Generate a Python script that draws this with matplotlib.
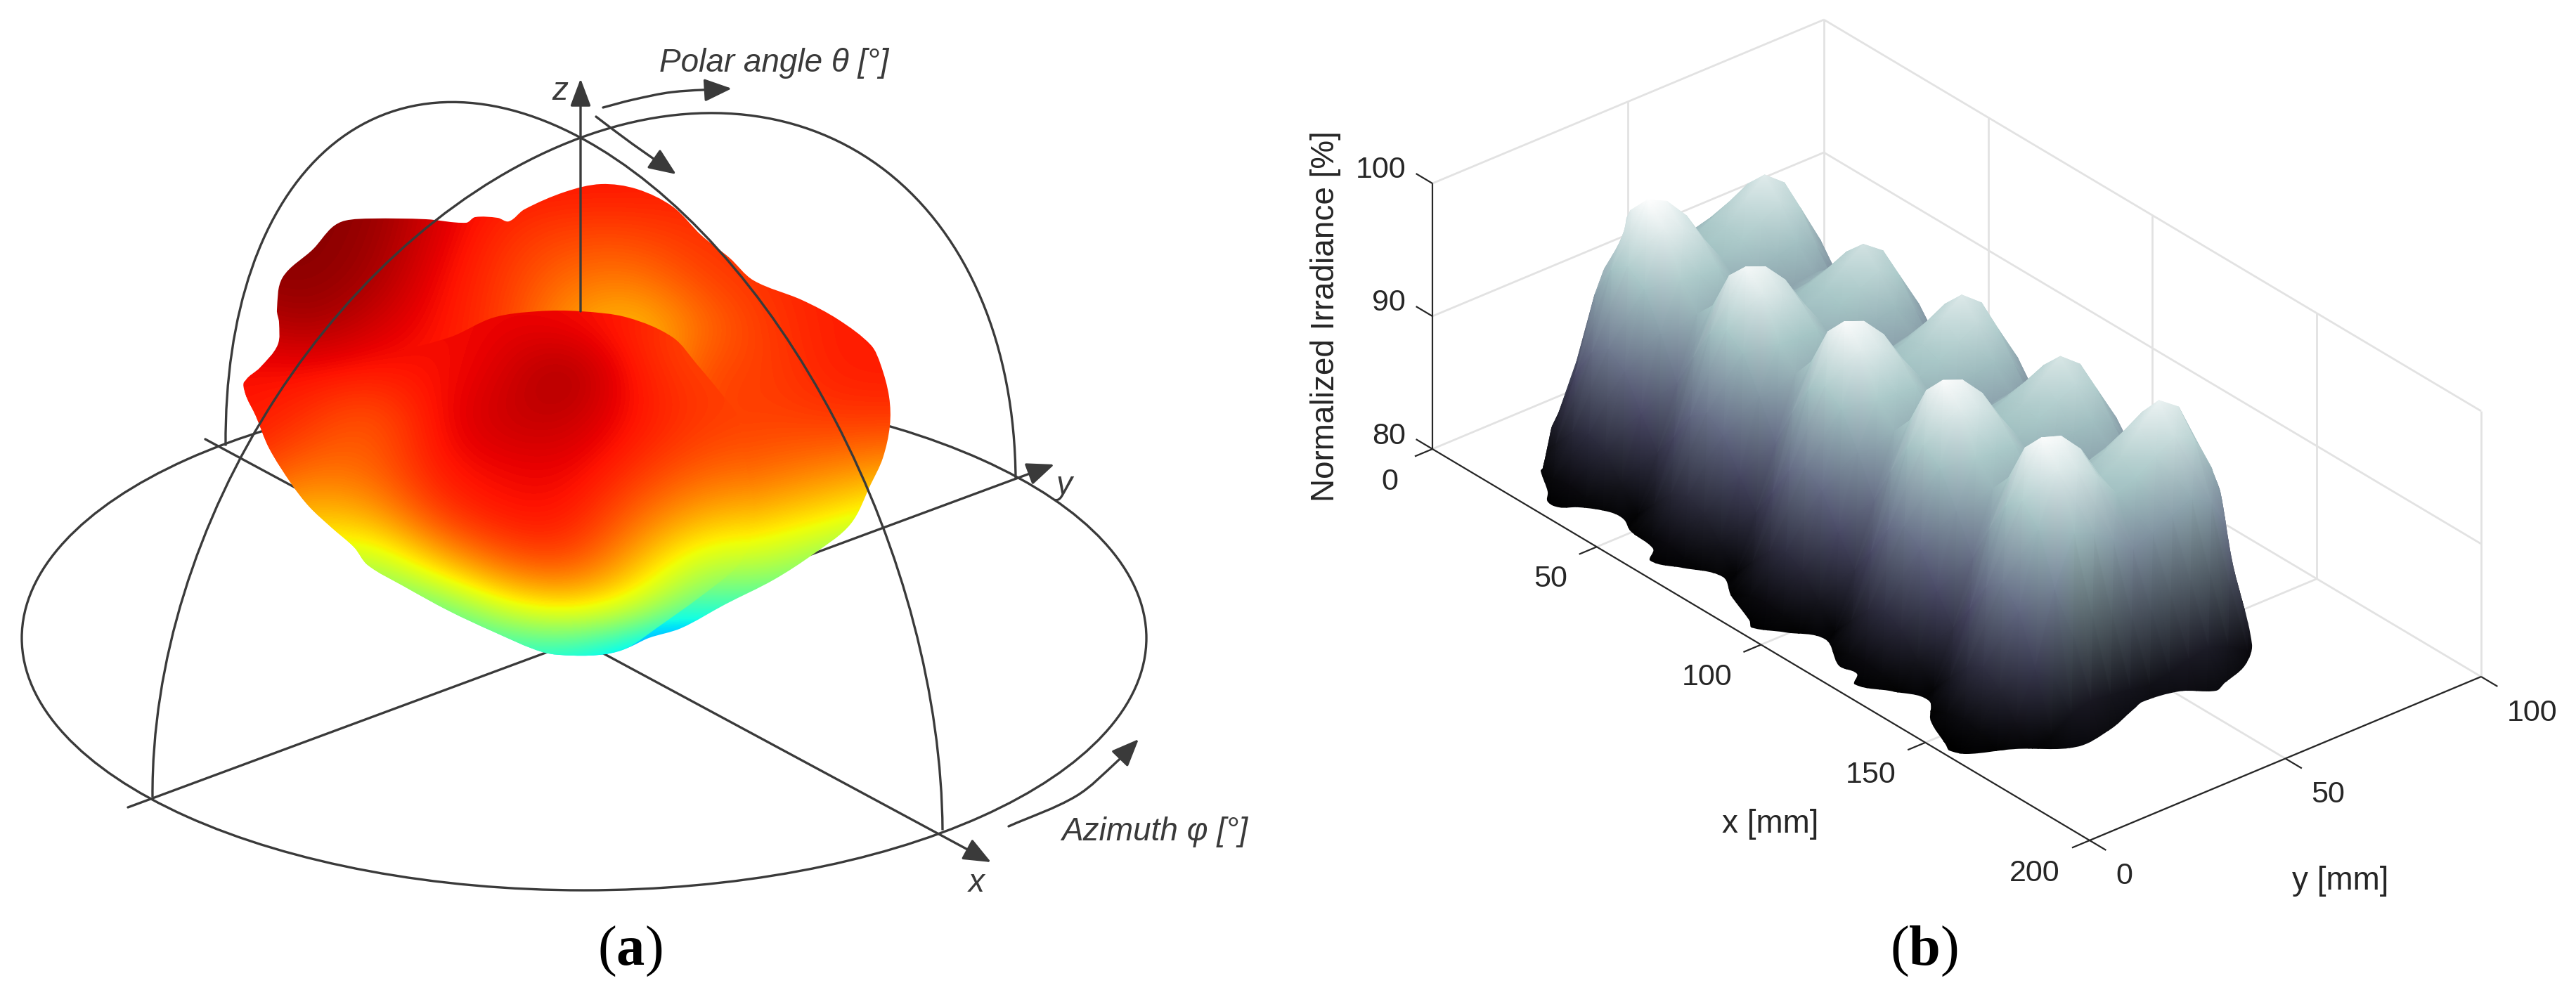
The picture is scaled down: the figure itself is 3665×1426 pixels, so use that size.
import matplotlib

matplotlib.use("Agg")
import matplotlib.pyplot as plt
import numpy as np
from matplotlib.patches import Ellipse, FancyArrowPatch, PathPatch
from matplotlib.path import Path
from matplotlib.transforms import Affine2D

# panel (a): everything, in its pixel coordinates
HORIZON_CENTER = (831, 908)
HORIZON_SIZE = (1600, 718)
# half circles over the horizon: half-chord vector, then vector up to the zenith
ARC_XZ = ((510, 273.5), (-5, -712))
ARC_YZ = ((614, -226.5), (-5, -712))
AXIS_X = [(292, 625), (1410, 1227)]
AXIS_Y = [(182, 1149), (1500, 661)]
AXIS_Z = [(826, 443), (826, 112)]
ARROW_POLAR_1 = [(858, 153), (900, 142), (957, 131), (1041, 126)]
ARROW_POLAR_2 = [(848, 166), (900, 205), (962, 248)]
ARROW_AZIMUTH = [(1435, 1176), (1531, 1133), (1589, 1084), (1620, 1052)]

BLOB_OUTLINE = [(491, 314), (529, 311), (606, 312), (663, 317), (676, 309), (708, 310), (724, 315),
                (746, 298), (804, 273), (855, 262), (906, 269), (957, 294), (998, 335), (1038, 367),
                (1072, 399), (1141, 427), (1193, 455), (1239, 491), (1253, 519), (1265, 565),
                (1266, 606), (1256, 652), (1239, 689), (1210, 746), (1158, 788), (1101, 825),
                (1032, 860), (969, 894), (923, 908), (893, 922), (861, 931), (816, 933), (772, 928),
                (702, 899), (638, 869), (574, 834), (523, 804), (504, 779), (472, 751), (440, 721),
                (415, 689), (383, 638), (364, 592), (349, 560), (349, 542), (370, 523), (395, 491),
                (397, 459), (394, 441), (402, 395), (446, 354), (472, 324)]
FRONT_LOBE = [(702, 452), (765, 443), (826, 443), (893, 452), (957, 480), (992, 519), (1026, 560),
              (1049, 592), (1058, 643), (1072, 720), (1070, 746), (1066, 774), (1049, 806),
              (998, 848), (934, 894), (893, 922), (861, 931), (816, 933), (772, 928), (702, 899),
              (638, 869), (574, 834), (523, 804), (504, 779), (472, 751), (440, 721), (415, 689),
              (383, 638), (364, 592), (349, 560), (349, 542), (420, 520), (560, 500), (640, 480)]

# jet colour position (percent) on a coarse grid over the blob
BLOB_X = [340, 434, 528, 622, 716, 810, 904, 998, 1092, 1186, 1280]
BLOB_Y = [260, 328, 396, 464, 532, 600, 668, 736, 804, 872, 940]
BACK_JET = [[99, 99, 99, 92, 89, 89, 89, 88, 88, 88, 88],
            [99, 99, 98, 92, 86, 84, 84, 86, 86, 88, 88],
            [98, 99, 97, 90, 85, 79, 78, 84, 86, 88, 88],
            [93, 97, 93, 89, 85, 74, 69, 79, 85, 88, 88],
            [89, 89, 88, 89, 85, 74, 70, 84, 84, 88, 88],
            [89, 86, 80, 90, 85, 75, 72, 85, 84, 85, 85],
            [86, 79, 80, 89, 85, 76, 74, 82, 80, 77, 74],
            [75, 70, 72, 85, 76, 74, 73, 74, 70, 66, 60],
            [60, 60, 55, 70, 65, 62, 60, 58, 58, 50, 45],
            [50, 50, 45, 45, 50, 45, 40, 40, 40, 40, 40],
            [30, 30, 35, 35, 35, 35, 25, 20, 20, 20, 20]]
FRONT_JET = [[99, 99, 99, 92, 89, 89, 89, 89, 89, 89, 89],
             [99, 99, 98, 92, 89, 89, 89, 89, 89, 89, 89],
             [98, 99, 97, 90, 90, 90, 89, 89, 89, 89, 89],
             [93, 97, 93, 89, 91, 90, 87, 82, 82, 82, 82],
             [89, 89, 88, 89, 92, 98, 88, 84, 84, 84, 84],
             [89, 86, 80, 90, 94, 94, 89, 85, 84, 84, 84],
             [86, 79, 80, 89, 90, 91, 86, 81, 80, 80, 80],
             [75, 70, 72, 85, 89, 89, 80, 72, 70, 70, 70],
             [60, 60, 55, 70, 81, 84, 72, 58, 58, 58, 58],
             [50, 50, 45, 45, 60, 66, 60, 45, 40, 40, 40],
             [30, 30, 35, 35, 35, 35, 25, 15, 15, 15, 15]]

# panel (b): axes of the surface and its tick values
X_TICKS = [0, 50, 100, 150, 200]
Y_TICKS = [0, 50, 100]
Z_TICKS = [80, 90, 100]

# irradiance on a 5 mm grid, far rows first
SURF_X = [12, 17, 22, 27, 32, 37, 42, 47, 52, 57, 62, 67, 72, 77, 82, 87, 92, 97, 102, 107, 112, 117,
          122, 127, 132, 137, 142, 147, 152, 157, 162, 167, 172]
SURF_Y = [88, 83, 78, 73, 68, 63, 58, 53, 48, 43, 38, 33, 28, 23, 18, 13, 8, 3, -2]
SURF_Z = [
    [78] * 33,
    [78, 78.2, 79.6, 80, 80.4, 80, 79.6, 78.8, 79.6, 80, 80.3, 80, 79.6, 78.8, 79.6, 80, 80.4, 80, 79.6, 78.8, 79.6, 80, 80.4, 80, 79.6, 78.9, 79.7, 80.1, 80.6, 80, 79.2, 78.4, 78],
    [78, 79.4, 82.5, 83.8, 84.5, 83.8, 82.5, 80.6, 82.4, 83.6, 84.2, 83.6, 82.4, 80.6, 82.5, 83.8, 84.5, 83.8, 82.5, 80.6, 82.5, 83.7, 84.4, 83.7, 82.5, 80.7, 82.7, 84, 84.9, 83.8, 81.8, 79.2, 78],
    [78, 81.6, 86.4, 88.2, 89, 88.2, 86.4, 83.8, 86.2, 87.9, 88.6, 87.9, 86.2, 83.8, 86.4, 88.2, 89, 88.2, 86.4, 83.8, 86.4, 88.1, 88.9, 88.1, 86.4, 84, 86.8, 88.7, 89.8, 88.3, 85, 80.2, 78],
    [78, 83.6, 91, 92.8, 93.6, 92.8, 91, 88.6, 90.7, 92.4, 93.2, 92.4, 90.7, 88.5, 91, 92.8, 93.6, 92.8, 91, 88.6, 90.9, 92.7, 93.5, 92.7, 91, 88.8, 91.4, 93.4, 94.4, 92.9, 89, 81, 78],
    [78, 85.2, 93.6, 95.8, 97, 95.8, 93.6, 91.8, 93.2, 95.2, 96.3, 95.2, 93.2, 91.6, 93.6, 95.6, 96.8, 95.6, 93.6, 91.8, 93.4, 95.4, 96.6, 95.5, 93.6, 92, 94, 96.4, 97.8, 96, 92, 82, 78],
    [78, 86, 94.6, 96.8, 98.2, 96.8, 94.6, 93, 94.1, 96.1, 97.4, 96.1, 94.1, 92.8, 94.4, 96.6, 98, 96.6, 94.4, 92.9, 94.3, 96.4, 97.8, 96.4, 94.4, 93.2, 95, 97.3, 98.9, 96.9, 93, 82.5, 78],
    [78, 85.4, 94.2, 96, 97, 96, 94.2, 92.8, 93.8, 95.4, 96.4, 95.4, 93.8, 92.6, 94.1, 95.8, 96.9, 95.8, 94.1, 92.7, 94, 95.7, 96.7, 95.7, 94.1, 92.9, 94.5, 96.4, 97.5, 96, 92.3, 82.2, 78],
    [78, 84.6, 93.8, 95.2, 95.6, 95.2, 93.8, 92, 93.5, 94.8, 95.2, 94.8, 93.5, 91.9, 93.7, 95, 95.5, 95, 93.7, 92, 93.7, 95, 95.4, 95, 93.8, 92.1, 94, 95.4, 95.9, 95, 91.6, 81.8, 78],
    [78, 84.2, 93.2, 94.4, 94.8, 94.4, 93.2, 91.8, 93, 94.1, 94.6, 94.1, 93, 91.7, 93.2, 94.4, 94.8, 94.4, 93.2, 91.8, 93.2, 94.3, 94.8, 94.3, 93.2, 91.9, 93.4, 94.5, 95, 94.4, 91, 81.5, 78],
    [78, 85.6, 95, 96.6, 97.6, 96.6, 95, 93.2, 94.8, 96.2, 97.2, 96.2, 94.8, 93.1, 95, 96.5, 97.5, 96.5, 95, 93.2, 95, 96.5, 97.5, 96.5, 95, 93.3, 95.1, 96.6, 97.7, 96.3, 92.3, 81.8, 78],
    [78, 86.8, 95.2, 97.9, 99.3, 97.9, 95.2, 93.4, 94.9, 97.4, 98.8, 97.4, 94.9, 93.3, 95.1, 97.7, 99.1, 97.7, 95.1, 93.4, 95.1, 97.7, 99.1, 97.7, 95.1, 93.5, 95.2, 97.8, 99.3, 97.5, 93.4, 82, 78],
    [78, 87.7, 95.4, 98.5, 100, 98.5, 95.4, 93.6, 95, 98, 99.4, 98, 95, 93.5, 95.2, 98.2, 99.7, 98.2, 95.2, 93.6, 95.2, 98.2, 99.7, 98.2, 95.2, 93.7, 95.3, 98.3, 99.8, 98, 94, 82.2, 78],
    [78, 86.2, 92, 94.6, 95.6, 94.6, 92, 89, 91.7, 94.2, 95.2, 94.2, 91.7, 88.9, 91.9, 94.4, 95.4, 94.4, 91.9, 89, 91.9, 94.4, 95.4, 94.4, 91.9, 89.1, 92, 94.5, 95.6, 94.2, 90.4, 81.8, 78],
    [78, 83, 86.6, 89, 90, 89, 86.6, 84.4, 86.3, 88.6, 89.6, 88.6, 86.3, 84.3, 86.5, 88.9, 89.9, 88.9, 86.5, 84.4, 86.5, 88.9, 89.9, 88.9, 86.5, 84.5, 86.6, 89, 90.1, 88.6, 85, 80.8, 78],
    [78, 80.6, 82, 83.6, 84.2, 83.6, 82, 80.4, 81.9, 83.4, 84, 83.4, 81.9, 80.4, 82, 83.5, 84.2, 83.5, 82, 80.4, 82, 83.5, 84.2, 83.5, 82, 80.5, 82.1, 83.6, 84.4, 83.4, 81.6, 80, 78],
    [78, 79.6, 80.2, 80.8, 81, 80.8, 80.2, 79, 80.2, 80.7, 81, 80.7, 80.2, 79, 80.2, 80.8, 81, 80.8, 80.2, 79, 80.2, 80.8, 81, 80.8, 80.2, 79, 80.2, 80.8, 81.1, 80.8, 80.2, 79.4, 78],
    [78, 79, 79.4, 79.9, 80, 79.9, 79.4, 78.2, 79.4, 79.9, 80, 79.9, 79.4, 78.2, 79.4, 79.9, 80, 79.9, 79.4, 78.2, 79.4, 79.9, 80, 79.9, 79.4, 78.2, 79.4, 79.9, 80, 79.9, 79.4, 78.6, 78],
    [76] * 33,
]
# outline of the surface on screen: scalloped foot, then loose round the peaks
SURF_OUTLINE = [(2192, 670), (2202, 700), (2202, 714), (2218, 722), (2246, 722), (2291, 729), (2310, 739),
                (2320, 756), (2352, 781), (2348, 798), (2393, 808), (2451, 821), (2463, 848), (2489, 883),
                (2492, 893), (2540, 900), (2597, 910), (2616, 947), (2642, 959), (2639, 974), (2693, 984),
                (2744, 997), (2747, 1026), (2769, 1061), (2773, 1068), (2797, 1073), (2867, 1066),
                (2954, 1063), (3001, 1039), (3036, 1009), (3048, 999), (3100, 984), (3153, 983),
                (3165, 972), (3194, 947), (3204, 917), (3176, 799), (3159, 700), (3147, 666), (3125, 576),
                (3110, 500), (2900, 330), (2500, 150), (2330, 220), (2310, 330), (2266, 413), (2221, 551),
                (2195, 666)]

INK = "#3a3a3a"
AXIS_INK = "#262626"
GRID_INK = "#e2e2e2"
SANS = "Liberation Sans"

plt.rcParams["mathtext.fontset"] = "custom"
plt.rcParams["mathtext.rm"] = "Liberation Serif"
plt.rcParams["mathtext.bf"] = "Liberation Serif:bold"


def curve(points, closed=False):
    # smooth bezier through the read points
    pts = np.asarray(points, dtype=float)
    if closed:
        pts = np.vstack([pts, pts[0]])
    verts = [pts[0]]
    codes = [Path.MOVETO]
    for i in range(len(pts) - 1):
        if closed:
            before = pts[i - 1] if i > 0 else pts[-2]
            after = pts[i + 2] if i + 2 < len(pts) else pts[1]
        else:
            before = pts[max(i - 1, 0)]
            after = pts[min(i + 2, len(pts) - 1)]
        seg = np.linalg.norm(pts[i + 1] - pts[i]) / 3
        out_dir = (pts[i + 1] - before) / np.linalg.norm(pts[i + 1] - before)
        in_dir = (after - pts[i]) / np.linalg.norm(after - pts[i])
        verts += [pts[i] + out_dir * seg, pts[i + 1] - in_dir * seg, pts[i + 1]]
        codes += [Path.CURVE4] * 3
    return Path(verts, codes)


def arrow(ax, points, width=2.4, length=24, half=10, zorder=6):
    style = f"-|>,head_length={length},head_width={half}"
    ax.add_patch(FancyArrowPatch(path=curve(points), arrowstyle=style, mutation_scale=1, lw=width,
                                 color=INK, zorder=zorder))


def half_circle(ax, chord, up):
    matrix = [[chord[0], up[0], HORIZON_CENTER[0]], [chord[1], up[1], HORIZON_CENTER[1]], [0, 0, 1]]
    path = Affine2D(np.array(matrix, dtype=float)).transform_path(Path.arc(0, 180))
    ax.add_patch(PathPatch(path, fill=False, ec=INK, lw=2.4, zorder=5))


def project(x, y, z=80):
    # orthographic view of the surface box, in reference pixels
    x, y, z = np.asarray(x, float), np.asarray(y, float), np.asarray(z, float)
    return 2038 + 4.675 * x + 5.57 * y, 639 + 2.785 * x - 2.33 * y - 18.9 * (z - 80)


def box_line(ax, start, end, **kw):
    sx, sy = project(*zip(start, end))
    ax.plot(sx, sy, solid_capstyle="butt", **kw)


fig = plt.figure(figsize=(36.66, 14.26), dpi=100)
ax = fig.add_axes([0, 0, 1, 1])

# panel (a)
ax.add_patch(Ellipse(HORIZON_CENTER, *HORIZON_SIZE, fill=False, ec=INK, lw=2.4, zorder=1))
arrow(ax, AXIS_X, zorder=1)
arrow(ax, AXIS_Y, zorder=1)

half_x = (BLOB_X[1] - BLOB_X[0]) / 2
half_y = (BLOB_Y[1] - BLOB_Y[0]) / 2
blob_extent = (BLOB_X[0] - half_x, BLOB_X[-1] + half_x, BLOB_Y[-1] + half_y, BLOB_Y[0] - half_y)
for table, outline, order in ((BACK_JET, BLOB_OUTLINE, 2), (FRONT_JET, FRONT_LOBE, 3)):
    image = ax.imshow(np.array(table) / 100, cmap="jet", vmin=0, vmax=1, extent=blob_extent,
                      interpolation="bicubic", aspect="auto", zorder=order)
    image.set_clip_path(PathPatch(curve(outline, closed=True), transform=ax.transData))

half_circle(ax, *ARC_XZ)
half_circle(ax, *ARC_YZ)
arrow(ax, AXIS_Z, half=9)
arrow(ax, ARROW_POLAR_1)
arrow(ax, ARROW_POLAR_2)
arrow(ax, ARROW_AZIMUTH)

axis_text = dict(family=SANS, style="italic", color=INK, ha="center", va="center", fontsize=33)
ax.text(797, 130, "z", **axis_text)
ax.text(1514, 691, "y", **axis_text)
ax.text(1389, 1257, "x", **axis_text)
ax.text(1101, 90, "Polar angle θ [°]", **axis_text)
ax.text(1643, 1184, "Azimuth φ [°]", **axis_text)
ax.text(896, 1353, r"$\mathrm{(}\mathbf{a}\mathrm{)}$", fontsize=58, color="black", ha="center", va="center")

# panel (b): box grid first, surface over it
grid_kw = dict(color=GRID_INK, lw=2.0, zorder=1)
for x in X_TICKS[1:]:
    box_line(ax, (x, 0, 80), (x, 100, 80), **grid_kw)
    box_line(ax, (x, 100, 80), (x, 100, 100), **grid_kw)
for y in Y_TICKS[1:]:
    box_line(ax, (0, y, 80), (200, y, 80), **grid_kw)
    box_line(ax, (0, y, 80), (0, y, 100), **grid_kw)
box_line(ax, (0, 0, 80), (0, 100, 80), **grid_kw)
for z in Z_TICKS[1:]:
    box_line(ax, (0, 0, z), (0, 100, z), **grid_kw)
    box_line(ax, (0, 100, z), (200, 100, z), **grid_kw)

grid_x, grid_y = np.meshgrid(SURF_X, SURF_Y)
surf_z = np.array(SURF_Z)
screen_x, screen_y = project(grid_x, grid_y, surf_z)
mesh = ax.pcolormesh(screen_x, screen_y, surf_z, shading="gouraud", cmap="bone", vmin=80, vmax=100, zorder=2)
mesh.set_clip_path(PathPatch(curve(SURF_OUTLINE, closed=True), transform=ax.transData))

axis_kw = dict(color=AXIS_INK, lw=1.6, zorder=3)
box_line(ax, (0, 0, 80), (200, 0, 80), **axis_kw)
box_line(ax, (200, 0, 80), (200, 100, 80), **axis_kw)
box_line(ax, (0, 0, 80), (0, 0, 100), **axis_kw)
for x in X_TICKS:
    box_line(ax, (x, 0, 80), (x, -4.5, 80), **axis_kw)
for y in Y_TICKS:
    box_line(ax, (200, y, 80), (205, y, 80), **axis_kw)
for z in Z_TICKS:
    box_line(ax, (0, 0, z), (-5, 0, z), **axis_kw)

tick_text = dict(family=SANS, color=AXIS_INK, ha="center", va="center", fontsize=31)
label_text = dict(tick_text, fontsize=33)
for z, px, py in zip(Z_TICKS, (1976, 1976, 1965), (621, 431, 242)):
    ax.text(px, py, str(z), **tick_text)
for x, px, py in zip(X_TICKS, (1977, 2206, 2429, 2662, 2895), (686, 824, 964, 1103, 1243)):
    ax.text(px, py, str(x), **tick_text)
for y, px, py in zip(Y_TICKS, (3022, 3312, 3603), (1247, 1131, 1015)):
    ax.text(px, py, str(y), **tick_text)
ax.text(2519, 1173, "x [mm]", **label_text)
ax.text(3330, 1254, "y [mm]", **label_text)
ax.text(1886, 450, "Normalized Irradiance [%]", rotation=90, **label_text)
ax.text(2737, 1353, r"$\mathrm{(}\mathbf{b}\mathrm{)}$", fontsize=58, color="black", ha="center", va="center")

ax.set_xlim(0, 3666)
ax.set_ylim(1426, 0)
ax.axis("off")

fig.savefig("out.png", dpi=100, facecolor="white")
plt.close(fig)
